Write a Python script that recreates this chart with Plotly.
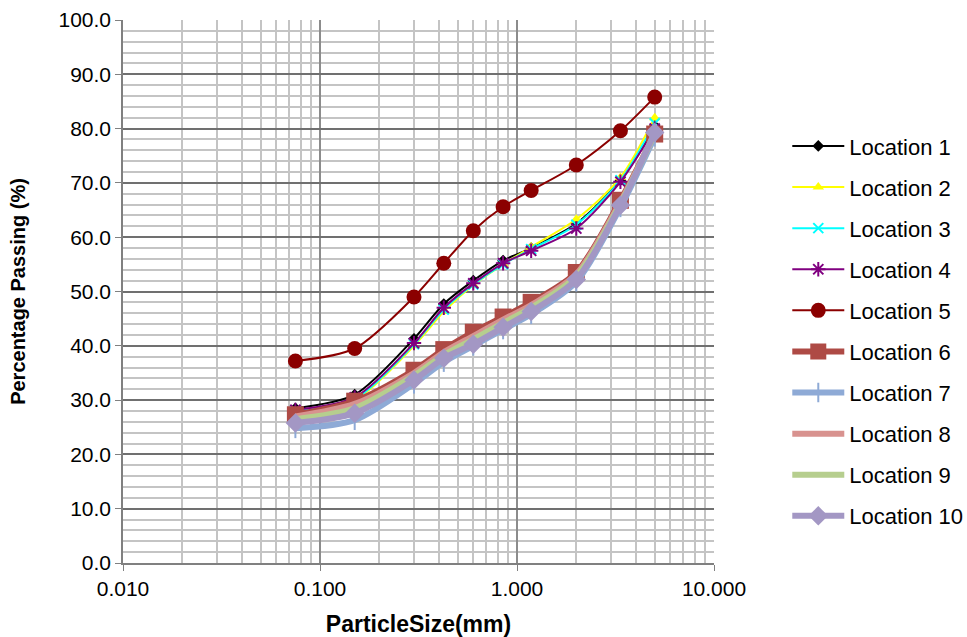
import plotly.graph_objects as go

sizes = [0.075, 0.15, 0.3, 0.425, 0.6, 0.85, 1.18, 2.0, 3.35, 5.0]

loc1 = [28.5, 31.0, 41.3, 47.7, 52.0, 55.7, 58.0, 62.5, 70.5, 80.5]
loc2 = [28.0, 30.0, 40.0, 46.3, 51.2, 55.0, 58.2, 63.3, 71.0, 82.0]
loc3 = [28.0, 30.2, 40.3, 46.7, 51.3, 55.0, 57.8, 62.3, 70.5, 81.0]
loc4 = [28.2, 30.5, 40.5, 47.0, 51.5, 55.2, 57.5, 61.6, 70.2, 80.0]
loc5 = [37.2, 39.5, 49.0, 55.2, 61.2, 65.6, 68.6, 73.3, 79.6, 85.8]
loc6 = [27.3, 29.8, 35.5, 39.3, 42.5, 45.3, 48.0, 53.5, 66.8, 79.0]
loc7 = [24.8, 26.3, 33.0, 37.0, 40.0, 43.0, 45.8, 51.8, 65.5, 78.5]
loc8 = [27.0, 29.3, 35.0, 38.8, 41.8, 44.8, 47.5, 53.2, 66.5, 79.0]
loc9 = [26.5, 28.5, 34.5, 38.3, 41.2, 44.2, 47.0, 52.8, 66.2, 79.0]
loc10 = [25.8, 27.6, 33.7, 37.7, 40.3, 43.4, 46.3, 52.2, 65.9, 79.3]

names = ["Location %d" % i for i in range(1, 11)]
series = [loc1, loc2, loc3, loc4, loc5, loc6, loc7, loc8, loc9, loc10]

styles = [
    dict(color="#000000", width=2, marker=dict(symbol="diamond", size=9, color="#000000")),
    dict(color="#FFFF00", width=2, marker=dict(symbol="triangle-up", size=10, color="#FFFF00")),
    dict(color="#00FFFF", width=2, marker=dict(symbol="x-thin-open", size=10, color="#00FFFF", line=dict(width=2, color="#00FFFF"))),
    dict(color="#800080", width=2, marker=dict(symbol="asterisk-open", size=12, color="#800080", line=dict(width=2, color="#800080"))),
    dict(color="#8B0000", width=2, marker=dict(symbol="circle", size=15, color="#8B0000")),
    dict(color="#AE4A45", width=6, marker=dict(symbol="square", size=17, color="#AE4A45")),
    dict(color="#8EAAD6", width=6, marker=dict(symbol="line-ns-open", size=14, color="#8EAAD6", line=dict(width=2, color="#8EAAD6"))),
    dict(color="#D8928F", width=6, marker=None),
    dict(color="#B6CE8E", width=6, marker=None),
    dict(color="#A397C4", width=6, marker=dict(symbol="diamond", size=15, color="#A397C4")),
]

fig = go.Figure()
for i, (nm, ys, st) in enumerate(zip(names, series, styles)):
    kw = {}
    if st["marker"] is not None:
        mode = "lines+markers"
        kw["marker"] = st["marker"]
    else:
        mode = "lines"
    fig.add_trace(go.Scatter(
        x=sizes, y=ys, name=nm, mode=mode,
        line=dict(color=st["color"], width=st["width"], shape="spline", smoothing=0.8),
        legendgroup="g%d" % i, **kw))

fig.update_layout(
    width=967, height=637,
    margin=dict(l=123, r=253, t=20, b=74, autoexpand=False),
    paper_bgcolor="white", plot_bgcolor="white",
    font=dict(family="Liberation Sans, Arial, sans-serif", size=21, color="#000000"),
    showlegend=True,
    legend=dict(
        x=1.124, y=0.427,
        xanchor="left", yanchor="middle",
        font=dict(size=22, color="#000000"),
        tracegroupgap=9.5, itemwidth=52,
        bgcolor="rgba(0,0,0,0)", borderwidth=0,
    ),
)

fig.update_xaxes(
    type="log", range=[-2, 1], dtick=1, tickformat=".3f",
    showgrid=True, gridcolor="#8C8C8C", gridwidth=1.5,
    minor=dict(dtick="D1", showgrid=True, gridcolor="#C4C4C4", gridwidth=2),
    showline=True, linecolor="#808080", linewidth=1.5,
    ticks="outside", ticklen=6, tickcolor="#808080",
    title=dict(text="<b>ParticleSize(mm)</b>", font=dict(size=23), standoff=21),
    mirror=False, zeroline=False, automargin=False,
)
fig.update_yaxes(
    range=[0, 100], dtick=10, tickformat=".1f",
    showgrid=True, gridcolor="#707070", gridwidth=1.5,
    minor=dict(dtick=2, showgrid=True, gridcolor="#C4C4C4", gridwidth=2),
    showline=True, linecolor="#808080", linewidth=1.5,
    ticks="outside", ticklen=6, tickcolor="#808080",
    title=dict(text="<b>Percentage Passing (%)</b>", font=dict(size=20), standoff=27),
    zeroline=False, automargin=False,
)

fig.write_html("out.html", config={"displayModeBar": False},
               post_script="document.body.style.margin='0';document.body.style.overflow='hidden';")
